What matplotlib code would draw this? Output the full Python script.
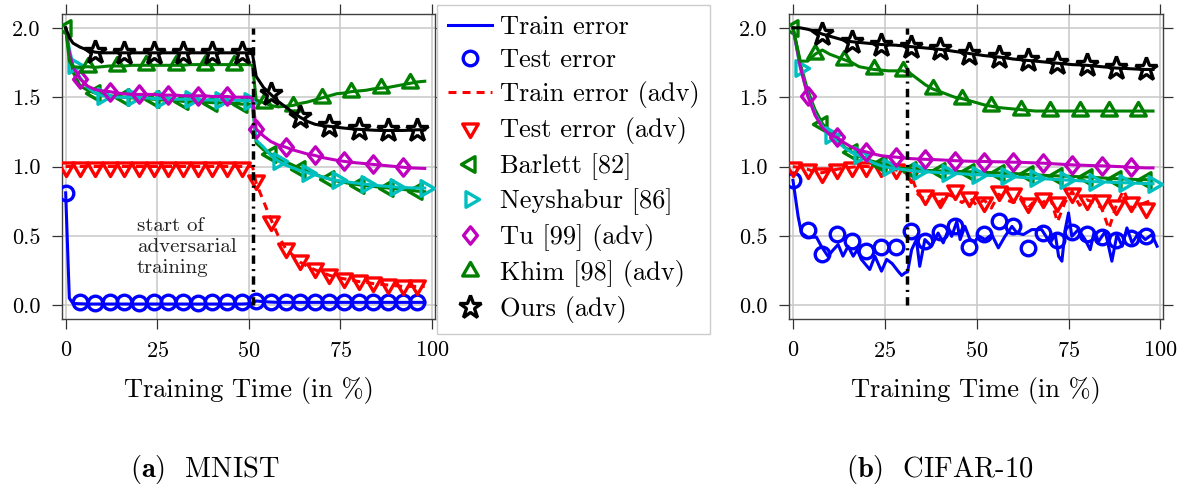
import numpy as np
import matplotlib
matplotlib.use("Agg")
import matplotlib.pyplot as plt
from matplotlib.path import Path
from matplotlib.lines import Line2D

plt.rcParams.update({
    "font.family": "cmr10",
    "mathtext.fontset": "cm",
    "axes.unicode_minus": False,
    "axes.formatter.use_mathtext": True,
})

# ---------------------------------------------------------------- MNIST data
mn_x = [0, 1] + list(range(2, 51, 2)) + [51] + list(range(52, 99, 2))
mn_train = [0.81, 0.05, 0.012, 0.01, 0.008, 0.008, 0.008, 0.008, 0.008, 0.008, 0.008, 0.008, 0.008, 0.008,
            0.008, 0.008, 0.008, 0.008, 0.008, 0.008, 0.008, 0.008, 0.008, 0.008, 0.008, 0.008, 0.01,
            0.012, 0.03, 0.025, 0.022, 0.02, 0.02, 0.02, 0.02, 0.02, 0.02, 0.02, 0.02, 0.02, 0.02,
            0.02, 0.02, 0.02, 0.02, 0.02, 0.02, 0.02, 0.02, 0.02, 0.02, 0.02]
mn_train_adv = [1.0, 1.0, 1.0, 1.0, 1.0, 1.0, 1.0, 1.0, 1.0, 1.0, 1.0, 1.0, 1.0, 1.0,
                1.0, 1.0, 1.0, 1.0, 1.0, 1.0, 1.0, 1.0, 1.0, 1.0, 1.0, 1.0, 1.0,
                1.0, 0.88, 0.75, 0.62, 0.50, 0.41, 0.36, 0.31, 0.28, 0.255, 0.235, 0.215, 0.20, 0.19,
                0.18, 0.17, 0.165, 0.155, 0.15, 0.145, 0.14, 0.135, 0.135, 0.135, 0.135]
mn_barlett = [2.0, 1.80, 1.68, 1.58, 1.55, 1.53, 1.52, 1.51, 1.505, 1.50, 1.495, 1.49, 1.49, 1.485,
              1.48, 1.48, 1.475, 1.47, 1.47, 1.465, 1.465, 1.46, 1.46, 1.455, 1.455, 1.45, 1.45,
              1.44, 1.17, 1.12, 1.09, 1.06, 1.035, 1.01, 0.985, 0.965, 0.945, 0.925, 0.91, 0.895, 0.885,
              0.875, 0.868, 0.862, 0.856, 0.85, 0.845, 0.84, 0.835, 0.828, 0.822, 0.818]
mn_neyshabur = [2.0, 1.85, 1.73, 1.64, 1.57, 1.53, 1.51, 1.505, 1.50, 1.50, 1.50, 1.495, 1.495, 1.49,
                1.49, 1.49, 1.485, 1.485, 1.485, 1.48, 1.48, 1.48, 1.48, 1.478, 1.478, 1.476, 1.475,
                1.47, 1.19, 1.14, 1.08, 1.04, 1.01, 0.99, 0.97, 0.955, 0.94, 0.925, 0.91, 0.90, 0.892,
                0.885, 0.878, 0.872, 0.866, 0.86, 0.856, 0.852, 0.849, 0.846, 0.845, 0.845]
mn_tu = [2.0, 1.82, 1.72, 1.63, 1.58, 1.555, 1.545, 1.54, 1.53, 1.525, 1.52, 1.52, 1.52, 1.52,
         1.515, 1.515, 1.515, 1.51, 1.51, 1.51, 1.51, 1.505, 1.505, 1.505, 1.50, 1.50, 1.50,
         1.49, 1.27, 1.22, 1.18, 1.155, 1.14, 1.12, 1.105, 1.09, 1.08, 1.065, 1.055, 1.045, 1.037,
         1.03, 1.025, 1.02, 1.015, 1.01, 1.005, 1.0, 0.995, 0.99, 0.988, 0.986]
mn_khim = [2.0, 1.76, 1.72, 1.715, 1.72, 1.715, 1.72, 1.725, 1.725, 1.725, 1.73, 1.73, 1.73, 1.73,
           1.73, 1.73, 1.73, 1.73, 1.735, 1.735, 1.735, 1.735, 1.735, 1.735, 1.735, 1.735, 1.735,
           1.73, 1.48, 1.46, 1.44, 1.43, 1.435, 1.44, 1.455, 1.465, 1.48, 1.495, 1.51, 1.525, 1.53,
           1.54, 1.545, 1.55, 1.56, 1.565, 1.57, 1.58, 1.59, 1.60, 1.61, 1.615]
mn_ours = [2.0, 1.93, 1.89, 1.86, 1.84, 1.825, 1.82, 1.82, 1.82, 1.82, 1.82, 1.82, 1.82, 1.82,
           1.82, 1.82, 1.82, 1.82, 1.82, 1.82, 1.82, 1.82, 1.82, 1.82, 1.82, 1.82, 1.82,
           1.81, 1.65, 1.57, 1.52, 1.47, 1.43, 1.39, 1.355, 1.325, 1.305, 1.295, 1.29, 1.283, 1.277,
           1.272, 1.268, 1.265, 1.262, 1.26, 1.26, 1.26, 1.26, 1.262, 1.265, 1.265]

mn_test_x = list(range(0, 97, 4))
mn_test = [0.81, 0.02, 0.015, 0.02, 0.02, 0.015, 0.02, 0.02, 0.02, 0.015, 0.02, 0.02, 0.02,
           0.03, 0.025, 0.02, 0.02, 0.025, 0.02, 0.02, 0.025, 0.025, 0.02, 0.02, 0.025]
mn_test_adv = [1.0, 1.0, 1.0, 1.0, 1.0, 1.0, 1.0, 1.0, 1.0, 1.0, 1.0, 1.0, 1.0,
               0.90, 0.61, 0.415, 0.327, 0.268, 0.224, 0.195, 0.183, 0.165, 0.152, 0.143, 0.147]
mn_switch = 51

# ------------------------------------------------------------- CIFAR-10 data
cf_x = list(range(0, 99, 2))
cf_barlett = [2.0, 1.74, 1.55, 1.41, 1.31, 1.25, 1.19, 1.14, 1.105, 1.075, 1.05, 1.035, 1.02, 1.005,
              0.995, 0.985, 0.978, 0.975, 0.972, 0.97, 0.968, 0.966, 0.965, 0.963, 0.962, 0.96,
              0.958, 0.956, 0.954, 0.952, 0.95, 0.946, 0.943, 0.94, 0.937, 0.934, 0.932, 0.93,
              0.928, 0.926, 0.924, 0.921, 0.918, 0.915, 0.912, 0.91, 0.908, 0.906, 0.905, 0.904]
cf_neyshabur = [2.0, 1.71, 1.52, 1.38, 1.29, 1.23, 1.18, 1.135, 1.10, 1.08, 1.05, 1.025, 1.005, 0.993,
                0.985, 0.978, 0.972, 0.965, 0.962, 0.959, 0.956, 0.953, 0.95, 0.947, 0.944, 0.941,
                0.938, 0.935, 0.932, 0.929, 0.926, 0.922, 0.918, 0.915, 0.912, 0.909, 0.906, 0.903,
                0.90, 0.897, 0.894, 0.891, 0.889, 0.887, 0.885, 0.883, 0.881, 0.879, 0.877, 0.876]
cf_tu = [2.0, 1.72, 1.51, 1.37, 1.28, 1.23, 1.21, 1.17, 1.14, 1.115, 1.105, 1.09, 1.078, 1.072,
         1.068, 1.062, 1.057, 1.054, 1.052, 1.05, 1.048, 1.045, 1.042, 1.04, 1.038, 1.037,
         1.036, 1.035, 1.034, 1.033, 1.031, 1.03, 1.028, 1.026, 1.024, 1.021, 1.018, 1.015,
         1.012, 1.01, 1.008, 1.006, 1.005, 1.003, 1.0, 0.998, 0.994, 0.992, 0.99, 0.99]
cf_khim = [2.0, 1.76, 1.76, 1.81, 1.84, 1.81, 1.79, 1.77, 1.75, 1.72, 1.71, 1.70, 1.695, 1.69,
           1.69, 1.69, 1.67, 1.63, 1.59, 1.56, 1.54, 1.52, 1.50, 1.49, 1.475, 1.46,
           1.445, 1.435, 1.425, 1.42, 1.415, 1.41, 1.405, 1.40, 1.40, 1.40, 1.40, 1.40,
           1.40, 1.40, 1.40, 1.40, 1.40, 1.40, 1.40, 1.40, 1.40, 1.40, 1.40, 1.40]
cf_ours = [2.0, 2.0, 1.99, 1.975, 1.955, 1.94, 1.925, 1.91, 1.90, 1.895, 1.89, 1.885, 1.88, 1.877,
           1.875, 1.87, 1.865, 1.86, 1.855, 1.85, 1.845, 1.838, 1.83, 1.823, 1.815, 1.808,
           1.80, 1.795, 1.79, 1.783, 1.775, 1.77, 1.765, 1.76, 1.755, 1.75, 1.745, 1.74,
           1.735, 1.733, 1.73, 1.725, 1.72, 1.715, 1.71, 1.708, 1.705, 1.702, 1.70, 1.70]
cf_train_adv = [1.0, 0.99, 0.98, 0.96, 0.955, 0.97, 0.98, 0.99, 0.995, 1.0, 1.0, 0.995, 0.99, 0.98,
                0.975, 0.96, 0.95, 0.80, 0.76, 0.80, 0.74, 0.80, 0.78, 0.74, 0.78, 0.72,
                0.76, 0.70, 0.80, 0.76, 0.74, 0.78, 0.70, 0.76, 0.74, 0.78, 0.60, 0.74,
                0.82, 0.72, 0.76, 0.74, 0.70, 0.55, 0.72, 0.83, 0.70, 0.72, 0.74, 0.76]

cf_train_x = [0, 1.4, 2.3, 4, 6.4, 7.7, 9.5, 11, 12.3, 13.6, 15, 16.4, 17.5, 18.6, 20.9, 22.3,
              24.1, 25.5, 27, 28.6, 29.6, 30.5, 31.2, 32.3, 33.6, 34.5, 35.9, 37.7, 39.5, 40.9,
              42.3, 43.2, 44.6, 45.5, 46.8, 48.2, 49.6, 50.5, 52.3, 54.1, 55.9, 57.7, 59.6, 61,
              62.7, 65, 67.7, 70, 71.4, 72.3, 73.2, 74.1, 75, 75.9, 77.7, 79.5, 80.9, 82, 83.2,
              85, 86.8, 88.2, 89.6, 90.9, 92.3, 94.1, 95.9, 97.7, 99.1]
cf_train = [0.90, 0.64, 0.52, 0.49, 0.49, 0.425, 0.353, 0.40, 0.437, 0.353, 0.425, 0.353, 0.40,
            0.33, 0.257, 0.353, 0.245, 0.33, 0.30, 0.245, 0.214, 0.233, 0.24, 0.40, 0.473, 0.28,
            0.473, 0.425, 0.52, 0.449, 0.545, 0.496, 0.604, 0.473, 0.568, 0.473, 0.46, 0.50,
            0.473, 0.509, 0.413, 0.496, 0.568, 0.52, 0.509, 0.545, 0.545, 0.449, 0.509, 0.353,
            0.317, 0.545, 0.665, 0.496, 0.545, 0.473, 0.40, 0.53, 0.46, 0.532, 0.317, 0.509,
            0.425, 0.557, 0.449, 0.52, 0.473, 0.509, 0.425]

cf_test_x = list(range(0, 97, 4))
cf_test = [0.90, 0.545, 0.37, 0.51, 0.46, 0.39, 0.42, 0.42, 0.535, 0.46, 0.525, 0.57, 0.42,
           0.51, 0.61, 0.57, 0.41, 0.52, 0.47, 0.53, 0.51, 0.495, 0.47, 0.485, 0.50]
cf_test_adv = [1.0, 0.98, 0.955, 0.98, 0.995, 1.0, 0.995, 0.98, 0.955, 0.795, 0.77, 0.83, 0.782,
               0.747, 0.82, 0.806, 0.734, 0.77, 0.747, 0.806, 0.758, 0.758, 0.722, 0.747, 0.704]
cf_switch = 31

# ------------------------------------------------------------------- markers
def regular_triangle(angle_deg):
    a = np.deg2rad(angle_deg + np.array([0, 120, 240, 0]))
    verts = np.column_stack([np.cos(a), np.sin(a)])
    codes = [Path.MOVETO, Path.LINETO, Path.LINETO, Path.CLOSEPOLY]
    return Path(verts, codes)

TRI_UP = regular_triangle(90)
TRI_DOWN = regular_triangle(-90)
TRI_LEFT = regular_triangle(180)
TRI_RIGHT = regular_triangle(0)
DIAMOND = Path([(0, 1), (0.8, 0), (0, -1), (-0.8, 0), (0, 1)],
               [Path.MOVETO, Path.LINETO, Path.LINETO, Path.LINETO, Path.CLOSEPOLY])

LW = 2.2
MEW = 2.4
STYLE = {
    "train":     dict(color="#0000ff"),
    "test":      dict(color="#0000ff", marker="o", ms=10.5),
    "train_adv": dict(color="#ff0000", dashes=(2.6, 2.0)),
    "test_adv":  dict(color="#ff0000", marker=TRI_DOWN, ms=13),
    "barlett":   dict(color="#008000", marker=TRI_LEFT, ms=13),
    "neyshabur": dict(color="#00bfbf", marker=TRI_RIGHT, ms=13),
    "tu":        dict(color="#bf00bf", marker=DIAMOND, ms=12.5),
    "khim":      dict(color="#008000", marker=TRI_UP, ms=13),
    "ours":      dict(color="#000000", marker="*", ms=17),
}


def mark_idx(xs, start, step=8):
    return [i for i, x in enumerate(xs) if x >= start and (x - start) % step == 0]


def marker_kw(key):
    s = STYLE[key]
    return dict(marker=s["marker"], ms=s["ms"], mfc="none", mec=s["color"], mew=MEW)


def draw_panel(ax, x, train_x, train, test_x, test, train_adv_x, train_adv, test_adv,
               barlett, neyshabur, tu, khim, ours, switch):
    ax.plot(train_x, train, color=STYLE["train"]["color"], lw=LW, zorder=3)
    ax.plot(test_x, test, ls="none", zorder=3, **marker_kw("test"))
    ax.plot(train_adv_x, train_adv, color=STYLE["train_adv"]["color"], lw=LW,
            dashes=STYLE["train_adv"]["dashes"], zorder=3)
    ax.plot(test_x, test_adv, ls="none", zorder=3, **marker_kw("test_adv"))
    for key, ys, start in [("barlett", barlett, 0), ("neyshabur", neyshabur, 2),
                           ("tu", tu, 4), ("khim", khim, 6), ("ours", ours, 8)]:
        ax.plot(x, ys, color=STYLE[key]["color"], lw=LW, zorder=3,
                markevery=mark_idx(x, start), **marker_kw(key))
    ax.plot([switch, switch], [0, 2.0], color="black", lw=2.5,
            dashes=(2.4, 1.5, 0.6, 1.5), zorder=4)

    ax.set_xlim(-1, 100.8)
    ax.set_ylim(-0.1, 2.1)
    ax.set_xticks([0, 25, 50, 75, 100])
    ax.set_yticks([0.0, 0.5, 1.0, 1.5, 2.0])
    ax.set_yticklabels(["0.0", "0.5", "1.0", "1.5", "2.0"])
    ax.grid(True, color="#c8c8c8", lw=1.1, zorder=0)
    ax.set_axisbelow(True)
    ax.tick_params(direction="out", length=7.5, width=0.9, color="#333333",
                   top=True, right=True, labelsize=16, pad=8)
    for sp in ax.spines.values():
        sp.set_color("#404040")
        sp.set_linewidth(1.0)
    ax.set_xlabel("Training Time (in %)", fontsize=19, labelpad=12)


fig = plt.figure(figsize=(11.89, 4.93), dpi=100)
W, H = 1189, 493
ax1 = fig.add_axes([62 / W, 1 - 319 / H, 373 / W, 305 / H])
ax2 = fig.add_axes([789.3 / W, 1 - 319 / H, 374 / W, 305 / H])

draw_panel(ax1, mn_x, mn_x, mn_train, mn_test_x, mn_test, mn_x, mn_train_adv, mn_test_adv,
           mn_barlett, mn_neyshabur, mn_tu, mn_khim, mn_ours, mn_switch)
draw_panel(ax2, cf_x, cf_train_x, cf_train, cf_test_x, cf_test, cf_x, cf_train_adv, cf_test_adv,
           cf_barlett, cf_neyshabur, cf_tu, cf_khim, cf_ours, cf_switch)

ax1.text(19.4, 0.42, "start of\nadversarial\ntraining", fontsize=15, color="#222222",
         ha="left", va="center", linespacing=1.2, zorder=5)

labels = ["Train error", "Test error", "Train error (adv)", "Test error (adv)",
          "Barlett [82]", "Neyshabur [86]", "Tu [99] (adv)", "Khim [98] (adv)", "Ours (adv)"]
handles = [
    Line2D([], [], color=STYLE["train"]["color"], lw=LW),
    Line2D([], [], ls="none", **marker_kw("test")),
    Line2D([], [], color=STYLE["train_adv"]["color"], lw=LW, dashes=STYLE["train_adv"]["dashes"]),
    Line2D([], [], ls="none", **marker_kw("test_adv")),
    Line2D([], [], ls="none", **marker_kw("barlett")),
    Line2D([], [], ls="none", **marker_kw("neyshabur")),
    Line2D([], [], ls="none", **marker_kw("tu")),
    Line2D([], [], ls="none", **marker_kw("khim")),
    Line2D([], [], ls="none", **marker_kw("ours")),
]
leg = fig.legend(handles, labels, loc="upper left", bbox_to_anchor=(437 / W, 1 - 5 / H),
                 borderaxespad=0, fontsize=19, frameon=True, fancybox=False,
                 edgecolor="#cccccc", framealpha=1, handlelength=1.7, handletextpad=0.27,
                 labelspacing=0.34, borderpad=0.4, numpoints=1)
leg.get_frame().set_linewidth(1.0)

fig.text(205 / W, 1 - 469 / H, r"$\mathbf{(a)}$  MNIST", fontsize=20.5, ha="center", va="center")
fig.text(940 / W, 1 - 469 / H, r"$\mathbf{(b)}$  CIFAR-10", fontsize=20.5, ha="center", va="center")

fig.savefig("out.png", dpi=100)
